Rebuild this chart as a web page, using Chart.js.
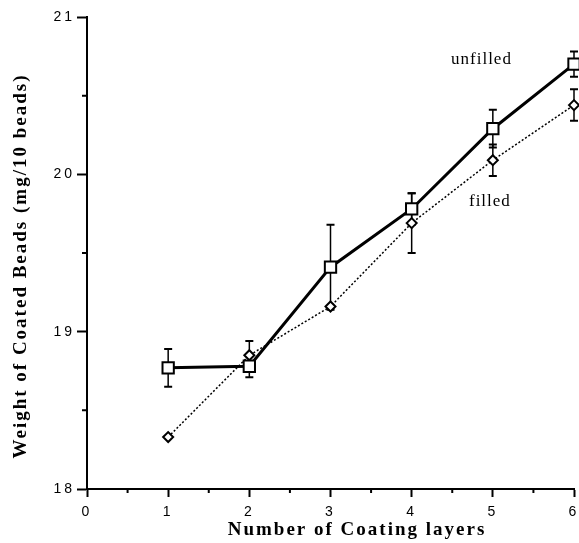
<!DOCTYPE html>
<html><head><meta charset="utf-8">
<script src="https://cdn.jsdelivr.net/npm/chart.js@4/dist/chart.umd.min.js"></script>
<style>html,body{margin:0;padding:0;background:#fff;} canvas{display:block;}</style>
</head><body>
<canvas id="c" width="579" height="543"></canvas>
<script>
const layers = [1, 2, 3, 4, 5, 6];
const unfilledWeight = [18.77, 18.78, 19.41, 19.78, 20.29, 20.70];
const unfilledErr = [0.12, 0.07, 0.27, 0.10, 0.12, 0.08];
const filledWeight = [18.33, 18.85, 19.16, 19.69, 20.09, 20.44];
const filledErr = [0, 0.09, 0, 0.19, 0.10, 0.10];
const xTicks = [0, 1, 2, 3, 4, 5, 6];
const yTicks = [18, 19, 20, 21];
const xMinorTicks = [0.5, 1.5, 2.5, 3.5, 4.5, 5.5];
const yMinorTicks = [18.5, 19.5, 20.5];
const seriesLabels = ['unfilled', 'filled'];
const xTitle = 'Number of Coating layers';
const yTitle = 'Weight of Coated Beads (mg/10 beads)';

const SERIF = '"Liberation Serif", "Times New Roman", serif';
const SANS = '"Liberation Sans", Arial, sans-serif';

const custom = {
  id: 'custom',
  beforeDraw(chart) {
    const ctx = chart.ctx;
    ctx.save();
    ctx.fillStyle = '#fff';
    ctx.fillRect(0, 0, chart.width, chart.height);
    ctx.restore();
    ctx.letterSpacing = '3px';
  },
  beforeDatasetsDraw(chart) {
    const ctx = chart.ctx;
    ctx.letterSpacing = '0px';
    const xs = chart.scales.x, ys = chart.scales.y;
    ctx.save();
    ctx.strokeStyle = '#000';
    ctx.lineWidth = 2;
    ctx.beginPath();
    xMinorTicks.forEach(v => { const px = xs.getPixelForValue(v); ctx.moveTo(px, ys.bottom); ctx.lineTo(px, ys.bottom + 4); });
    yMinorTicks.forEach(v => { const py = ys.getPixelForValue(v); ctx.moveTo(xs.left, py); ctx.lineTo(xs.left - 5, py); });
    ctx.stroke();
    const cap = 4;
    [[unfilledWeight, unfilledErr], [filledWeight, filledErr]].forEach(([vals, errs]) => {
      vals.forEach((v, i) => {
        const e = errs[i];
        if (!e) return;
        const px = xs.getPixelForValue(layers[i]);
        const top = ys.getPixelForValue(v + e), bot = ys.getPixelForValue(v - e);
        ctx.lineWidth = 1.5;
        ctx.beginPath(); ctx.moveTo(px, top); ctx.lineTo(px, bot); ctx.stroke();
        ctx.lineWidth = 2;
        ctx.beginPath();
        ctx.moveTo(px - cap, top); ctx.lineTo(px + cap, top);
        ctx.moveTo(px - cap, bot); ctx.lineTo(px + cap, bot);
        ctx.stroke();
      });
    });
    ctx.restore();
  },
  afterDraw(chart, args, opts) {
    const ctx = chart.ctx;
    const xs = chart.scales.x, ys = chart.scales.y;
    ctx.save();
    ctx.fillStyle = '#000';
    ctx.letterSpacing = '2px';
    ctx.font = 'bold 19px ' + SERIF;
    ctx.textAlign = 'center';
    ctx.textBaseline = 'alphabetic';
    ctx.fillText(xTitle, opts.xTitleX, opts.xTitleY);
    ctx.save();
    ctx.translate(opts.yTitleX, opts.yTitleY);
    ctx.rotate(-Math.PI / 2);
    ctx.fillText(yTitle, 0, 0);
    ctx.restore();
    ctx.letterSpacing = '1px';
    ctx.font = '17px ' + SERIF;
    ctx.textAlign = 'left';
    opts.labels.forEach((p, i) => {
      ctx.fillText(seriesLabels[i], xs.getPixelForValue(p[0]), ys.getPixelForValue(p[1]));
    });
    ctx.restore();
    ctx.letterSpacing = '0px';
  }
};

const toPts = vals => vals.map((v, i) => ({ x: layers[i], y: v }));

new Chart(document.getElementById('c'), {
  type: 'line',
  data: {
    datasets: [
      {
        label: seriesLabels[0],
        data: toPts(unfilledWeight),
        borderColor: '#000', borderWidth: 3,
        pointStyle: 'rect', pointRadius: 8, pointBorderWidth: 2,
        pointBackgroundColor: '#fff', pointBorderColor: '#000',
        tension: 0, clip: false
      },
      {
        label: seriesLabels[1],
        data: toPts(filledWeight),
        borderColor: '#000', borderWidth: 1.5, borderDash: [2, 2],
        pointStyle: 'rectRot', pointRadius: 5, pointBorderWidth: 2,
        pointBackgroundColor: '#fff', pointBorderColor: '#000',
        tension: 0, clip: false
      }
    ]
  },
  options: {
    responsive: false,
    animation: false,
    events: [],
    layout: { autoPadding: false, padding: { left: 0, right: 5, top: 17, bottom: 0 } },
    plugins: {
      legend: { display: false },
      tooltip: { enabled: false },
      custom: {
        xTitleX: 357, xTitleY: 535,
        yTitleX: 26, yTitleY: 266,
        labels: [[4.485, 20.70], [4.706, 19.80]]
      }
    },
    scales: {
      x: {
        type: 'linear', min: 0, max: 6,
        afterBuildTicks: s => { s.ticks = xTicks.map(v => ({ value: v })); },
        ticks: { font: { family: SANS, size: 14 }, color: '#000', padding: 7, maxRotation: 0, autoSkip: false },
        grid: { display: true, drawOnChartArea: false, drawTicks: true, tickLength: 8, tickColor: '#000', tickWidth: 2 },
        border: { display: true, color: '#000', width: 2 },
        afterFit: s => { s.height = 54; s.paddingLeft = 0; s.paddingRight = 0; }
      },
      y: {
        type: 'linear', min: 18, max: 21,
        afterBuildTicks: s => { s.ticks = yTicks.map(v => ({ value: v })); },
        ticks: { font: { family: SANS, size: 14 }, color: '#000', padding: 2, autoSkip: false },
        grid: { display: true, drawOnChartArea: false, drawTicks: true, tickLength: 10, tickColor: '#000', tickWidth: 2 },
        border: { display: true, color: '#000', width: 2 },
        afterFit: s => { s.width = 87; s.paddingTop = 0; s.paddingBottom = 0; }
      }
    }
  },
  plugins: [custom]
});
</script>
</body></html>
